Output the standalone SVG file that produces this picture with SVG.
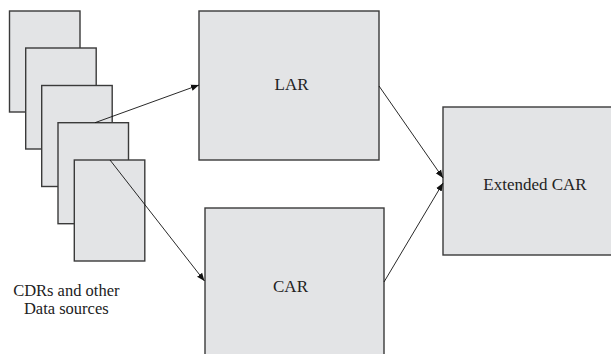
<svg xmlns="http://www.w3.org/2000/svg" width="611" height="354" viewBox="0 0 611 354">
<style>
.box{fill:#e3e4e6;stroke:#3a3a3a;stroke-width:1.4}
.lbl{font-family:"Liberation Serif","Times New Roman",serif;font-size:17px;fill:#222;text-anchor:middle}
.src{font-size:16.5px}
.conn{stroke:#111;stroke-width:0.9;fill:none}
</style>
<defs>
<marker id="ah" viewBox="0 0 10 10" refX="10" refY="5" markerWidth="8" markerHeight="8" markerUnits="userSpaceOnUse" orient="auto">
<path d="M0,1 L10,5 L0,9 z" fill="#111"/>
</marker>
</defs>
<rect width="611" height="354" fill="#fff"/>
<g id="sources">
<rect class="box" x="9.5" y="11" width="70.5" height="101"/>
<rect class="box" x="25.7" y="48" width="70.5" height="101"/>
<rect class="box" x="41.7" y="85.5" width="70.5" height="101"/>
<rect class="box" x="58" y="122.7" width="70.5" height="101"/>
<rect class="box" x="74.3" y="160" width="70.5" height="101"/>
<text class="lbl src" x="66.3" y="296">CDRs and other</text>
<text class="lbl src" x="66.3" y="313.5">Data sources</text>
</g>
<g id="lar">
<rect class="box" x="199" y="11" width="180" height="149"/>
<text class="lbl" x="291.5" y="90">LAR</text>
</g>
<g id="car">
<rect class="box" x="205" y="208" width="179" height="160"/>
<text class="lbl" x="290.5" y="292">CAR</text>
</g>
<g id="extcar">
<rect class="box" x="443" y="107" width="180" height="148"/>
<text class="lbl" x="535" y="190">Extended CAR</text>
</g>
<g id="connectors">
<line class="conn" x1="95" y1="122.7" x2="199" y2="85" marker-end="url(#ah)"/>
<line class="conn" x1="110" y1="160" x2="204.5" y2="281" marker-end="url(#ah)"/>
<line class="conn" x1="379" y1="86" x2="443" y2="178" marker-end="url(#ah)"/>
<line class="conn" x1="384" y1="282" x2="443" y2="183" marker-end="url(#ah)"/>
</g>
</svg>
